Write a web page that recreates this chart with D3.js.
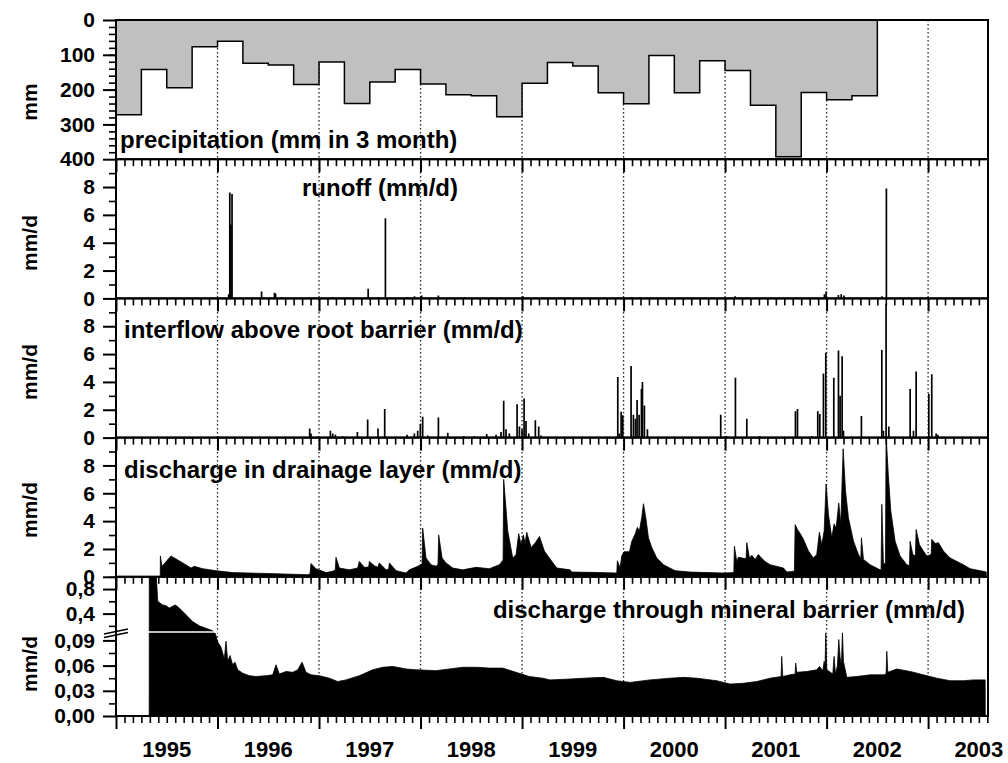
<!DOCTYPE html>
<html>
<head>
<meta charset="utf-8">
<script src="https://cdn.jsdelivr.net/npm/d3@7"></script>
<style>
  body { margin: 0; background: #fff; }
  svg text { font-family: Arial, "Liberation Sans", Helvetica, sans-serif; font-weight: bold; fill: #000; }
</style>
</head>
<body>
<svg id="chart" width="1008" height="763"></svg>
<script>
/* ---- data (time in decimal years) ---- */

// precipitation sums per quarter, starting Jan 1995 (mm in 3 month)
var precipValues = [272, 142, 195, 77, 61, 124, 129, 185, 121, 240, 178, 142, 184, 215, 218,
                    278, 182, 122, 132, 209, 241, 102, 209, 117, 145, 245, 393, 208, 229, 218];

// runoff events (mm/d)
var runoff = [
  [1996.110, 0.3], [1996.121, 7.6], [1996.132, 5.3], [1996.143, 7.5],
  [1996.434, 0.5], [1996.561, 0.4], [1996.572, 0.35], [1996.632, 0.1], [1996.907, 0.05],
  [1997.132, 0.1], [1997.484, 0.7], [1997.583, 0.1], [1997.654, 5.75], [1997.868, 0.1],
  [1997.940, 0.15], [1998.011, 0.2], [1998.176, 0.2], [1998.434, 0.1], [1998.792, 0.1],
  [1999.011, 0.15], [1999.946, 0.1], [2000.083, 0.1], [2000.165, 0.1], [2001.099, 0.15],
  [2001.704, 0.1], [2001.979, 0.3], [2001.995, 0.5], [2002.116, 0.25], [2002.144, 0.3],
  [2002.171, 0.2], [2002.545, 0.15], [2002.589, 7.9]
];

// interflow above root barrier (mm/d)
var interflow = [
  [1995.749, 0.05], [1996.149, 0.05], [1996.908, 0.65], [1996.921, 0.3], [1997.112, 0.5],
  [1997.135, 0.3], [1997.161, 0.2], [1997.233, 0.1], [1997.378, 0.4], [1997.479, 1.3],
  [1997.581, 0.65], [1997.647, 2.05], [1997.867, 0.2], [1997.939, 0.3], [1997.972, 0.5],
  [1997.998, 1.0], [1998.021, 1.5], [1998.071, 0.15], [1998.176, 1.45], [1998.268, 0.35],
  [1998.425, 0.1], [1998.530, 0.1], [1998.652, 0.25], [1998.744, 0.2], [1998.793, 0.4],
  [1998.819, 2.65], [1998.842, 0.6], [1998.875, 0.3], [1998.951, 2.4], [1998.974, 0.8],
  [1999.000, 0.6], [1999.020, 2.8], [1999.039, 1.2], [1999.066, 0.3], [1999.131, 1.25],
  [1999.164, 0.8], [1999.187, 0.15],
  [1999.943, 4.35], [1999.959, 0.3], [1999.976, 1.85], [1999.992, 1.6], [2000.074, 5.15],
  [2000.097, 1.65], [2000.117, 1.35], [2000.133, 2.7], [2000.153, 1.65], [2000.176, 3.5],
  [2000.186, 4.0], [2000.205, 2.3], [2000.235, 0.6], [2000.957, 1.65], [2001.017, 0.1],
  [2001.102, 4.3], [2001.214, 1.35], [2001.338, 0.1], [2001.693, 1.9], [2001.713, 2.05],
  [2001.857, 0.1], [2001.913, 1.9], [2001.933, 1.7], [2001.969, 4.6], [2001.992, 6.1],
  [2002.071, 4.3], [2002.117, 6.25], [2002.133, 3.0], [2002.153, 5.85], [2002.166, 0.5],
  [2002.343, 1.55], [2002.544, 6.3], [2002.560, 0.5], [2002.586, 9.6], [2002.613, 0.8],
  [2002.823, 3.5], [2002.856, 0.5], [2002.882, 4.75], [2003.007, 3.15], [2003.036, 4.55],
  [2003.079, 0.3], [2003.095, 0.2], [2003.200, 0.05]
];

// discharge in drainage layer (mm/d)
var drainage = [
  [1995.436, 0], [1995.437, 1.5], [1995.453, 0.75], [1995.542, 1.5], [1995.657, 1.0],
  [1995.739, 0.63], [1995.772, 0.75], [1995.854, 0.58], [1995.985, 0.44], [1996.149, 0.3],
  [1996.478, 0.24], [1996.888, 0.15], [1996.911, 0.2], [1996.921, 0.95], [1996.970, 0.58],
  [1997.069, 0.3], [1997.135, 0.4], [1997.161, 0.5], [1997.167, 1.4], [1997.200, 0.63],
  [1997.299, 0.5], [1997.381, 0.63], [1997.397, 1.1], [1997.447, 0.68], [1997.489, 0.7],
  [1997.496, 1.1], [1997.545, 0.8], [1997.578, 0.68], [1997.594, 1.0], [1997.660, 0.5],
  [1997.686, 0.55], [1997.693, 1.0], [1997.759, 0.44], [1997.857, 0.27], [1997.890, 0.5],
  [1997.956, 0.7], [1998.015, 0.9], [1998.021, 3.5], [1998.054, 1.35], [1998.103, 0.87],
  [1998.153, 0.75], [1998.172, 0.9], [1998.179, 3.0], [1998.212, 1.35], [1998.251, 1.0],
  [1998.317, 0.63], [1998.415, 0.5], [1998.547, 0.68], [1998.678, 0.58], [1998.777, 0.87],
  [1998.813, 1.2], [1998.819, 7.0], [1998.859, 3.3], [1998.908, 1.35], [1998.941, 1.6],
  [1998.967, 3.1], [1998.990, 2.3], [1999.013, 3.0], [1999.030, 2.4], [1999.046, 3.2],
  [1999.089, 2.1], [1999.131, 2.45], [1999.171, 2.9], [1999.220, 1.85], [1999.269, 1.35],
  [1999.342, 0.63], [1999.473, 0.5], [1999.489, 0.34], [1999.670, 0.32], [1999.933, 0.27],
  [1999.939, 1.15], [1999.966, 0.63], [1999.982, 1.5], [2000.005, 1.8], [2000.058, 1.8],
  [2000.081, 2.55], [2000.113, 3.05], [2000.136, 3.55], [2000.156, 3.3], [2000.179, 4.25],
  [2000.196, 5.25], [2000.219, 4.25], [2000.245, 2.8], [2000.278, 2.1], [2000.327, 1.35],
  [2000.393, 0.87], [2000.508, 0.44], [2000.655, 0.34], [2000.984, 0.27], [2001.086, 0.3],
  [2001.092, 2.2], [2001.115, 1.1], [2001.131, 1.4], [2001.207, 1.3], [2001.214, 2.45],
  [2001.240, 1.35], [2001.263, 1.55], [2001.296, 1.25], [2001.328, 1.6], [2001.351, 1.4],
  [2001.394, 1.1], [2001.443, 0.87], [2001.575, 0.63], [2001.608, 0.34], [2001.683, 0.4],
  [2001.690, 3.75], [2001.713, 3.4], [2001.732, 3.2], [2001.772, 2.7], [2001.821, 1.85],
  [2001.870, 1.35], [2001.903, 1.6], [2001.929, 3.2], [2001.953, 2.3], [2001.976, 3.3],
  [2001.995, 6.65], [2002.018, 4.5], [2002.051, 2.8], [2002.074, 3.8], [2002.094, 3.5],
  [2002.120, 5.3], [2002.140, 3.8], [2002.163, 9.2], [2002.186, 6.2], [2002.215, 4.25],
  [2002.265, 2.55], [2002.314, 1.6], [2002.337, 1.3], [2002.343, 2.8], [2002.363, 1.25],
  [2002.429, 0.87], [2002.527, 0.5], [2002.537, 0.5], [2002.544, 5.2], [2002.560, 0.9],
  [2002.580, 1.0], [2002.586, 10.2], [2002.609, 7.2], [2002.632, 4.75], [2002.675, 2.55],
  [2002.724, 1.5], [2002.790, 0.87], [2002.816, 0.8], [2002.823, 2.55], [2002.849, 1.6],
  [2002.875, 1.5], [2002.882, 3.4], [2002.915, 2.3], [2002.954, 1.85], [2002.987, 1.5],
  [2003.030, 1.6], [2003.036, 2.7], [2003.069, 2.4], [2003.102, 2.45], [2003.151, 1.85],
  [2003.217, 1.35], [2003.348, 0.87], [2003.414, 0.58], [2003.545, 0.39], [2003.572, 0.34],
  [2003.573, 0]
];

// discharge through mineral barrier (mm/d)
var mineral = [
  [1995.327, 0], [1995.328, 1.3], [1995.394, 1.1], [1995.411, 0.6], [1995.460, 0.54],
  [1995.493, 0.53], [1995.525, 0.49], [1995.558, 0.52], [1995.585, 0.54], [1995.624, 0.49],
  [1995.690, 0.38], [1995.755, 0.27], [1995.821, 0.2], [1995.887, 0.16], [1995.952, 0.12],
  [1995.979, 0.098], [1996.002, 0.088], [1996.034, 0.082], [1996.067, 0.068], [1996.084, 0.089],
  [1996.100, 0.065], [1996.123, 0.072], [1996.149, 0.061], [1996.172, 0.064], [1996.199, 0.055],
  [1996.248, 0.051], [1996.314, 0.048], [1996.379, 0.047], [1996.478, 0.048], [1996.544, 0.049],
  [1996.576, 0.061], [1996.609, 0.05], [1996.675, 0.053], [1996.741, 0.052], [1996.790, 0.055],
  [1996.833, 0.064], [1996.872, 0.052], [1996.921, 0.049], [1997.003, 0.048], [1997.102, 0.045],
  [1997.184, 0.041], [1997.266, 0.043], [1997.397, 0.048], [1997.529, 0.055], [1997.627, 0.058],
  [1997.726, 0.059], [1997.857, 0.056], [1997.956, 0.055], [1998.153, 0.054], [1998.284, 0.056],
  [1998.415, 0.058], [1998.547, 0.058], [1998.678, 0.057], [1998.810, 0.057], [1998.941, 0.052],
  [1999.072, 0.047], [1999.204, 0.045], [1999.276, 0.043], [1999.473, 0.044], [1999.604, 0.045],
  [1999.801, 0.046], [1999.933, 0.042], [2000.064, 0.040], [2000.261, 0.043], [2000.458, 0.045],
  [2000.590, 0.046], [2000.721, 0.045], [2000.918, 0.042], [2001.049, 0.038], [2001.181, 0.039],
  [2001.312, 0.041], [2001.443, 0.045], [2001.552, 0.047], [2001.558, 0.071], [2001.568, 0.047],
  [2001.640, 0.049], [2001.690, 0.050], [2001.696, 0.063], [2001.706, 0.052], [2001.805, 0.053],
  [2001.903, 0.055], [2001.930, 0.059], [2001.962, 0.054], [2001.976, 0.065], [2001.985, 0.06],
  [2001.992, 0.107], [2002.002, 0.055], [2002.061, 0.050], [2002.074, 0.071], [2002.087, 0.050],
  [2002.107, 0.06], [2002.120, 0.091], [2002.133, 0.07], [2002.146, 0.06], [2002.156, 0.104],
  [2002.166, 0.065], [2002.199, 0.046], [2002.297, 0.047], [2002.429, 0.049], [2002.560, 0.049],
  [2002.586, 0.05], [2002.593, 0.077], [2002.603, 0.052], [2002.691, 0.056], [2002.823, 0.053],
  [2002.954, 0.049], [2003.086, 0.045], [2003.217, 0.042], [2003.348, 0.042], [2003.447, 0.043],
  [2003.562, 0.043], [2003.563, 0]
];

var yearTicks = [1995, 1996, 1997, 1998, 1999, 2000, 2001, 2002, 2003];
var yearLabels = ["1995", "1996", "1997", "1998", "1999", "2000", "2001", "2002", "2003"];

/* ---- layout ---- */
var svg = d3.select("#chart");
var plotL = 116, plotR = 988, plotT = 20, panelH = 139.2;
var x = d3.scaleLinear().domain([1995, 2003.59]).range([plotL, plotR]);

function pTop(i) { return plotT + i * panelH; }
function pBot(i) { return plotT + (i + 1) * panelH; }

var comma = function(f) { return function(d) { return d3.format(f)(d).replace(".", ","); }; };

var panels = [
  { y: d3.scaleLinear().domain([0, 400]).range([pTop(0), pBot(0)]),
    major: [0, 100, 200, 300, 400], minor: d3.range(20, 400, 20), fmt: d3.format("d"),
    label: "mm", labelY: 102 },
  { y: d3.scaleLinear().domain([0, 10]).range([pBot(1), pTop(1)]),
    major: [0, 2, 4, 6, 8], minor: [1, 3, 5, 7, 9], fmt: d3.format("d"),
    label: "mm/d", labelY: 243 },
  { y: d3.scaleLinear().domain([0, 10]).range([pBot(2), pTop(2)]),
    major: [0, 2, 4, 6, 8], minor: [1, 3, 5, 7, 9], fmt: d3.format("d"),
    label: "mm/d", labelY: 372 },
  { y: d3.scaleLinear().domain([0, 10]).range([pBot(3), pTop(3)]),
    major: [0, 2, 4, 6, 8], minor: [1, 3, 5, 7, 9], fmt: d3.format("d"),
    label: "mm/d", labelY: 510 },
  { y: d3.scaleLinear().domain([0, 0.1, 1.0]).range([pBot(4), 632, pTop(4)]),
    major: [0, 0.03, 0.06, 0.09], minor: [0.015, 0.045, 0.075], fmt: comma(".2f"),
    major2: [0.4, 0.8], minor2: [0.2, 0.6, 1.0], fmt2: comma(".1f"),
    label: "mm/d", labelY: 664 }
];

// clip paths
var defs = svg.append("defs");
panels.forEach(function(p, i) {
  defs.append("clipPath").attr("id", "clip" + i)
    .append("rect").attr("x", plotL).attr("y", pTop(i))
    .attr("width", plotR - plotL).attr("height", panelH);
});

// dotted year lines
svg.append("g").selectAll("line")
  .data(yearTicks.filter(function(d) { return d > 1995; }))
  .enter().append("line")
  .attr("x1", function(d) { return x(d); }).attr("x2", function(d) { return x(d); })
  .attr("y1", plotT).attr("y2", pBot(4))
  .attr("stroke", "#222").attr("stroke-width", 1.3)
  .attr("stroke-dasharray", "1.5,2.5");

/* ---- data marks ---- */

// precipitation: grey area hanging from 0 at top, with step outline
var p0 = panels[0].y;
var precip = precipValues.map(function(v, i) { return [1995 + i / 4, v]; });
precip.push([1995 + precipValues.length / 4, precipValues[precipValues.length - 1]]);
svg.append("path").datum(precip)
  .attr("clip-path", "url(#clip0)")
  .attr("fill", "#c0c0c0")
  .attr("d", d3.area().curve(d3.curveStepAfter)
    .x(function(d) { return x(d[0]); }).y0(p0(0)).y1(function(d) { return p0(d[1]); }));
svg.append("path").datum(precip.concat([[precip[precip.length - 1][0], 0]]))
  .attr("clip-path", "url(#clip0)")
  .attr("fill", "none").attr("stroke", "#000").attr("stroke-width", 1.5)
  .attr("d", d3.line().curve(d3.curveStepAfter)
    .x(function(d) { return x(d[0]); }).y(function(d) { return p0(d[1]); }));

// impulses for runoff and interflow
function impulses(data, i) {
  var y = panels[i].y;
  svg.append("g").attr("clip-path", "url(#clip" + i + ")")
    .selectAll("line").data(data).enter().append("line")
    .attr("x1", function(d) { return x(d[0]); }).attr("x2", function(d) { return x(d[0]); })
    .attr("y1", y(0)).attr("y2", function(d) { return y(d[1]); })
    .attr("stroke", "#000").attr("stroke-width", 1.7);
}
impulses(runoff, 1);
impulses(interflow, 2);

// filled series
function filled(data, i) {
  var y = panels[i].y;
  svg.append("path").datum(data)
    .attr("clip-path", "url(#clip" + i + ")")
    .attr("fill", "#000").attr("stroke", "#000").attr("stroke-width", 0.8)
    .attr("d", d3.area().x(function(d) { return x(d[0]); })
      .y0(y(0)).y1(function(d) { return y(d[1]); }));
}
filled(drainage, 3);
filled(mineral, 4);

// axis break in the lower panel
svg.append("line").attr("x1", plotL + 1).attr("x2", plotR - 1)
  .attr("y1", 632).attr("y2", 632).attr("stroke", "#fff").attr("stroke-width", 1.5);

/* ---- axes ---- */
function styleAxis(g, w) {
  g.select(".domain").remove();
  g.selectAll("line").attr("stroke", "#000").attr("stroke-width", w);
}

var months = d3.range(1, 104).filter(function(m) { return m % 12 != 0; })
  .map(function(m) { return 1995 + m / 12; })
  .filter(function(t) { return t < 2003.59; });

panels.forEach(function(p, i) {
  // frame
  svg.append("rect").attr("x", plotL).attr("y", pTop(i))
    .attr("width", plotR - plotL).attr("height", panelH)
    .attr("fill", "none").attr("stroke", "#000").attr("stroke-width", 2);

  // y axis
  var gy = svg.append("g").attr("transform", "translate(" + plotL + ",0)")
    .call(d3.axisLeft(p.y).tickValues(p.major).tickFormat(p.fmt).tickSize(13).tickPadding(8));
  styleAxis(gy, 2);
  gy.selectAll("text").style("font-size", "21px");
  var gym = svg.append("g").attr("transform", "translate(" + plotL + ",0)")
    .call(d3.axisLeft(p.y).tickValues(p.minor).tickFormat("").tickSize(7));
  styleAxis(gym, 1.6);
  if (p.major2) {
    var gy2 = svg.append("g").attr("transform", "translate(" + plotL + ",0)")
      .call(d3.axisLeft(p.y).tickValues(p.major2).tickFormat(p.fmt2).tickSize(13).tickPadding(8));
    styleAxis(gy2, 2);
    gy2.selectAll("text").style("font-size", "21px");
    var gym2 = svg.append("g").attr("transform", "translate(" + plotL + ",0)")
      .call(d3.axisLeft(p.y).tickValues(p.minor2).tickFormat("").tickSize(7));
    styleAxis(gym2, 1.6);
  }

  // x axis ticks under each panel
  var gx = svg.append("g").attr("transform", "translate(0," + pBot(i) + ")")
    .call(d3.axisBottom(x).tickValues(yearTicks).tickFormat("").tickSize(13));
  styleAxis(gx, 2);
  var gxm = svg.append("g").attr("transform", "translate(0," + pBot(i) + ")")
    .call(d3.axisBottom(x).tickValues(months).tickFormat("").tickSize(7));
  styleAxis(gxm, 1.6);

  // axis title
  svg.append("text")
    .attr("transform", "translate(37," + p.labelY + ") rotate(-90)")
    .attr("text-anchor", "middle")
    .style("font-size", "21px")
    .text(p.label);
});

// break marks on the left axis
svg.append("g").selectAll("line").data([0, 3.5]).enter().append("line")
  .attr("x1", plotL - 12).attr("x2", plotL + 12)
  .attr("y1", function(d) { return 634 + d; }).attr("y2", function(d) { return 629 + d; })
  .attr("stroke", "#000").attr("stroke-width", 1.6);

// year labels, centred in each year
svg.append("g").selectAll("text").data(yearLabels).enter().append("text")
  .attr("x", function(d, i) { return x(yearTicks[i] + 0.5); })
  .attr("y", 757)
  .attr("text-anchor", "middle")
  .style("font-size", "22px")
  .text(function(d) { return d; });

// panel titles
var titles = [
  { text: "precipitation (mm in 3 month)", x: 120, y: 148, anchor: "start" },
  { text: "runoff (mm/d)", x: 302, y: 196, anchor: "start" },
  { text: "interflow above root barrier (mm/d)", x: 124, y: 338, anchor: "start" },
  { text: "discharge in drainage layer (mm/d)", x: 124, y: 478, anchor: "start" },
  { text: "discharge through mineral barrier (mm/d)", x: 965, y: 618, anchor: "end" }
];
svg.append("g").selectAll("text").data(titles).enter().append("text")
  .attr("x", function(d) { return d.x; }).attr("y", function(d) { return d.y; })
  .attr("text-anchor", function(d) { return d.anchor; })
  .style("font-size", "24px")
  .text(function(d) { return d.text; });
</script>
</body>
</html>
